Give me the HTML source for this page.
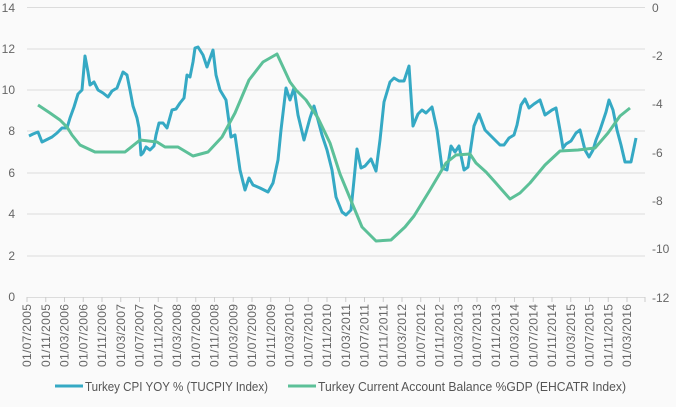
<!DOCTYPE html>
<html><head><meta charset="utf-8"><style>body{margin:0;background:#fafafa}svg{display:block}</style></head><body>
<svg width="676" height="407" xmlns="http://www.w3.org/2000/svg" font-family="Liberation Sans, sans-serif">
<rect width="676" height="407" fill="#fafafa"/>
<g stroke="#dcdcdc" stroke-width="1">
<line x1="27" x2="645" y1="7.5" y2="7.5"/><line x1="27" x2="645" y1="49" y2="49"/><line x1="27" x2="645" y1="90" y2="90"/><line x1="27" x2="645" y1="131" y2="131"/><line x1="27" x2="645" y1="173" y2="173"/><line x1="27" x2="645" y1="214" y2="214"/><line x1="27" x2="645" y1="256" y2="256"/><line x1="27" x2="645" y1="297.5" y2="297.5"/>
</g>
<g fill="#666" font-size="12" text-anchor="end">
<text x="15" y="12">14</text><text x="15" y="53">12</text><text x="15" y="94">10</text><text x="15" y="135">8</text><text x="15" y="177">6</text><text x="15" y="218">4</text><text x="15" y="260">2</text><text x="15" y="301">0</text>
</g>
<g fill="#666" font-size="12">
<text x="652" y="12">0</text><text x="652" y="60">-2</text><text x="652" y="108">-4</text><text x="652" y="157">-6</text><text x="652" y="205">-8</text><text x="652" y="253">-10</text><text x="652" y="302">-12</text>
</g>
<g id="ticks" stroke="#ccc"></g>
<g fill="#666" font-size="12" id="xl"></g>
<script>
var t=document.getElementById('ticks'),xl=document.getElementById('xl'),ns='http://www.w3.org/2000/svg';
var m=['07','11','03'];var y=2005;
for(var k=0;k<=32;k++){var x=27+k*18.75;var l=document.createElementNS(ns,'line');l.setAttribute('x1',x);l.setAttribute('x2',x);l.setAttribute('y1',297);l.setAttribute('y2',302);t.appendChild(l);
var mm=m[k%3];if(mm=='03')y++;var tx=document.createElementNS(ns,'text');tx.setAttribute('transform','translate('+(x+4)+',367) rotate(-90)');tx.setAttribute('textLength','63');tx.textContent='01/'+mm+'/'+y;xl.appendChild(tx);}
var l=document.createElementNS(ns,'line');l.setAttribute('x1',645);l.setAttribute('x2',645);l.setAttribute('y1',297);l.setAttribute('y2',302);t.appendChild(l);
</script>
<polyline fill="none" stroke="#35a9c4" stroke-width="3" stroke-linejoin="round" points="29,136 33,134 38,132 42,142 46,140 52,137 57,133 62,128 67,128 70,118 74,107 78,94 82,90 85,56 88,72 90,85 94,82 98,90 103,93 108,97 112,91 117,88 120,80 123,72 127,75 130,90 133,106 137,118 139,128 141,155 143,153 146,147 150,150 154,146 156,135 159,123 163,123 167,128 172,110 176,109 180,103 184,98 187,75 190,77 193,62 195,48 198,47 203,55 207,67 213,50 216,75 220,90 226,100 231,137 235,135 240,170 245,190 249,178 253,185 260,188 268,192 273,183 278,160 281,130 286,88 290,100 294,88 298,115 304,140 310,118 314,106 318,120 322,135 327,150 332,170 336,197 342,212 346,215 351,210 354,180 357,149 361,168 365,166 371,159 376,171 380,140 384,102 390,82 394,78 399,81 404,81 409,66 413,126 418,114 422,110 426,113 432,107 437,130 442,168 447,170 451,146 455,152 459,146 464,170 468,167 474,126 479,114 485,130 490,135 495,140 500,145 504,145 509,138 514,135 517,125 521,105 525,99 529,108 534,104 540,100 545,115 552,110 556,108 560,130 563,148 566,144 571,141 576,133 580,130 585,150 589,157 593,150 596,140 600,130 606,112 609,100 613,110 617,130 621,145 625,162 631,162 636,138"/>
<polyline fill="none" stroke="#5cc098" stroke-width="3" stroke-linejoin="round" points="38,105 50,113 60,120 67,127 72,135 80,145 95,152 125,152 140,140 157,142 165,147 178,147 193,156 208,152 222,137 235,113 249,80 263,62 277,54 290,82 296,90 306,100 318,118 330,143 340,174 352,203 362,227 376,241 391,240 405,227 414,216 430,190 446,163 456,155 470,154 476,163 486,172 495,182 502,190 510,199 520,193 530,183 545,165 560,151 578,150 595,148 608,133 620,116 630,108"/>
<line x1="55" x2="83" y1="386" y2="386" stroke="#35a9c4" stroke-width="3"/>
<line x1="288" x2="316" y1="386" y2="386" stroke="#5cc098" stroke-width="3"/>
<g fill="#555" font-size="13">
<text x="85" y="391" textLength="183" lengthAdjust="spacingAndGlyphs">Turkey CPI YOY % (TUCPIY Index)</text>
<text x="318" y="391" textLength="308" lengthAdjust="spacingAndGlyphs">Turkey Current Account Balance %GDP (EHCATR Index)</text>
</g>
</svg>
</body></html>
